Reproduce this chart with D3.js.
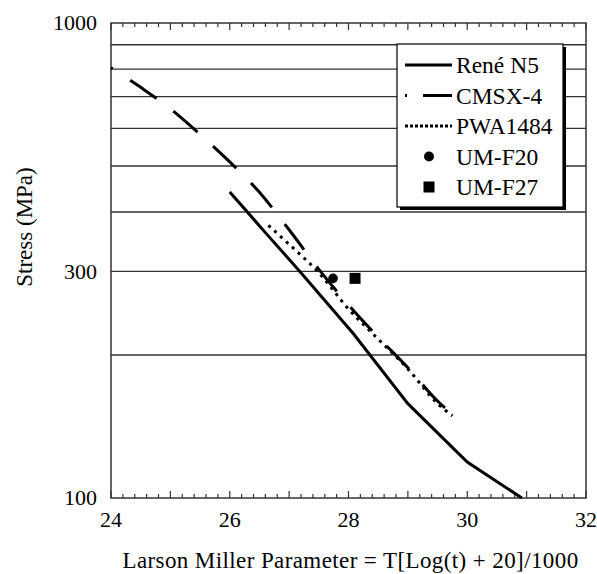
<!DOCTYPE html>
<html>
<head>
<meta charset="utf-8">
<script src="https://cdn.jsdelivr.net/npm/d3@7"></script>
<style>
  body { margin: 0; background: #fff; }
  svg text { font-family: "Liberation Serif", "Times New Roman", "DejaVu Serif", serif; }
</style>
</head>
<body>
<svg id="chart" width="597" height="574"></svg>
<script>
// Larson Miller parameter vs stress (MPa)
const reneN5 = [
  [26.0, 441], [26.6, 362], [27.17, 301], [28.08, 222],
  [29.0, 158], [30.0, 119], [30.92, 100]
];
const cmsx4 = [
  [24.0, 805], [24.5, 732], [25.0, 660], [25.5, 583], [26.0, 510],
  [26.5, 440], [27.0, 367], [27.5, 303], [28.0, 255], [28.5, 218],
  [29.0, 188], [29.5, 160], [29.75, 150]
];
const pwa1484 = [
  [26.65, 375], [27.0, 342], [27.5, 298], [28.0, 250], [28.5, 216],
  [29.0, 187], [29.5, 158], [29.75, 149]
];
const umF20 = [[27.74, 290]];
const umF27 = [[28.11, 290]];

const xTickLabels = [24, 26, 28, 30, 32];
const yTickLabels = [100, 300, 1000];
const yGrid = [200, 300, 400, 500, 600, 700, 800, 900];
const legendNames = ['René N5', 'CMSX-4', 'PWA1484', 'UM-F20', 'UM-F27'];

const plot = { left: 111, right: 586, top: 23, bottom: 498 };

const x = d3.scaleLinear().domain([24, 32]).range([plot.left, plot.right]);
const y = d3.scaleLog().domain([100, 1000]).range([plot.bottom, plot.top]);

const svg = d3.select('#chart');

// grid
svg.append('g')
  .selectAll('line')
  .data(yGrid)
  .join('line')
  .attr('x1', plot.left).attr('x2', plot.right)
  .attr('y1', (d) => y(d)).attr('y2', (d) => y(d))
  .attr('stroke', '#333').attr('stroke-width', 1.3);

// frame
svg.append('rect')
  .attr('x', plot.left).attr('y', plot.top)
  .attr('width', plot.right - plot.left).attr('height', plot.bottom - plot.top)
  .attr('fill', 'none').attr('stroke', '#333').attr('stroke-width', 1.5);

// inward ticks on top and bottom
const minor = d3.range(24, 32.001, 0.2).map((v) => +v.toFixed(1));
const isMajor = (v) => Math.abs(v - Math.round(v)) < 1e-6;
const tickG = svg.append('g').attr('stroke', '#333').attr('stroke-width', 1.2);
tickG.selectAll('line.b')
  .data(minor)
  .join('line')
  .attr('class', 'b')
  .attr('x1', (d) => x(d)).attr('x2', (d) => x(d))
  .attr('y1', plot.bottom).attr('y2', (d) => plot.bottom - (isMajor(d) ? 7 : 4));
tickG.selectAll('line.t')
  .data(minor)
  .join('line')
  .attr('class', 't')
  .attr('x1', (d) => x(d)).attr('x2', (d) => x(d))
  .attr('y1', plot.top).attr('y2', (d) => plot.top + (isMajor(d) ? 7 : 4));

// tick labels
svg.append('g')
  .selectAll('text')
  .data(xTickLabels)
  .join('text')
  .attr('x', (d) => x(d)).attr('y', 527)
  .attr('text-anchor', 'middle')
  .attr('font-size', 22)
  .text((d) => d);

svg.append('g')
  .selectAll('text')
  .data(yTickLabels)
  .join('text')
  .attr('x', 97).attr('y', (d) => y(d))
  .attr('dy', '0.34em')
  .attr('text-anchor', 'end')
  .attr('font-size', 22)
  .text((d) => d);

// axis titles
svg.append('text')
  .attr('transform', 'translate(32,227) rotate(-90)')
  .attr('text-anchor', 'middle')
  .attr('font-size', 23)
  .text('Stress (MPa)');

svg.append('text')
  .attr('x', (plot.left + plot.right) / 2 + 2).attr('y', 568)
  .attr('text-anchor', 'middle')
  .attr('font-size', 23)
  .attr('letter-spacing', 0.4)
  .text('Larson Miller Parameter = T[Log(t) + 20]/1000');

// series
const smooth = d3.line()
  .x((d) => x(d[0]))
  .y((d) => y(d[1]))
  .curve(d3.curveMonotoneX);
const straight = d3.line()
  .x((d) => x(d[0]))
  .y((d) => y(d[1]));

svg.append('path')
  .datum(pwa1484)
  .attr('d', smooth)
  .attr('fill', 'none').attr('stroke', '#000')
  .attr('stroke-width', 3)
  .attr('stroke-dasharray', '3,5');

svg.append('path')
  .datum(cmsx4)
  .attr('d', smooth)
  .attr('fill', 'none').attr('stroke', '#000')
  .attr('stroke-width', 3)
  .attr('stroke-dasharray', '32,21')
  .attr('stroke-dashoffset', 30);

svg.append('path')
  .datum(reneN5)
  .attr('d', straight)
  .attr('fill', 'none').attr('stroke', '#000')
  .attr('stroke-width', 3);

svg.append('g')
  .selectAll('circle')
  .data(umF20)
  .join('circle')
  .attr('cx', (d) => x(d[0])).attr('cy', (d) => y(d[1]))
  .attr('r', 4.8).attr('fill', '#000');

svg.append('g')
  .selectAll('rect')
  .data(umF27)
  .join('rect')
  .attr('x', (d) => x(d[0]) - 5.5).attr('y', (d) => y(d[1]) - 5.5)
  .attr('width', 11).attr('height', 11).attr('fill', '#000');

// legend
const lg = svg.append('g');
lg.append('rect')
  .attr('x', 400).attr('y', 47).attr('width', 166).attr('height', 163)
  .attr('fill', '#000');
lg.append('rect')
  .attr('x', 397).attr('y', 44).attr('width', 166).attr('height', 163)
  .attr('fill', '#fff').attr('stroke', '#000').attr('stroke-width', 1.2);

const rowY = (i) => 73 + i * 30.5;
const styles = [
  { dash: null },
  { dash: '2,16,30' },
  { dash: '3,2' },
];
styles.forEach((s, i) => {
  const p = lg.append('line')
    .attr('x1', 405).attr('x2', 452)
    .attr('y1', rowY(i) - 8).attr('y2', rowY(i) - 8)
    .attr('stroke', '#000').attr('stroke-width', 3);
  if (s.dash) p.attr('stroke-dasharray', s.dash);
});
lg.append('circle')
  .attr('cx', 429).attr('cy', rowY(3) - 8).attr('r', 5).attr('fill', '#000');
lg.append('rect')
  .attr('x', 423.5).attr('y', rowY(4) - 13.5).attr('width', 11).attr('height', 11).attr('fill', '#000');

lg.selectAll('text')
  .data(legendNames)
  .join('text')
  .attr('x', 456).attr('y', (d, i) => rowY(i))
  .attr('font-size', 23.5)
  .text((d) => d);
</script>
</body>
</html>
